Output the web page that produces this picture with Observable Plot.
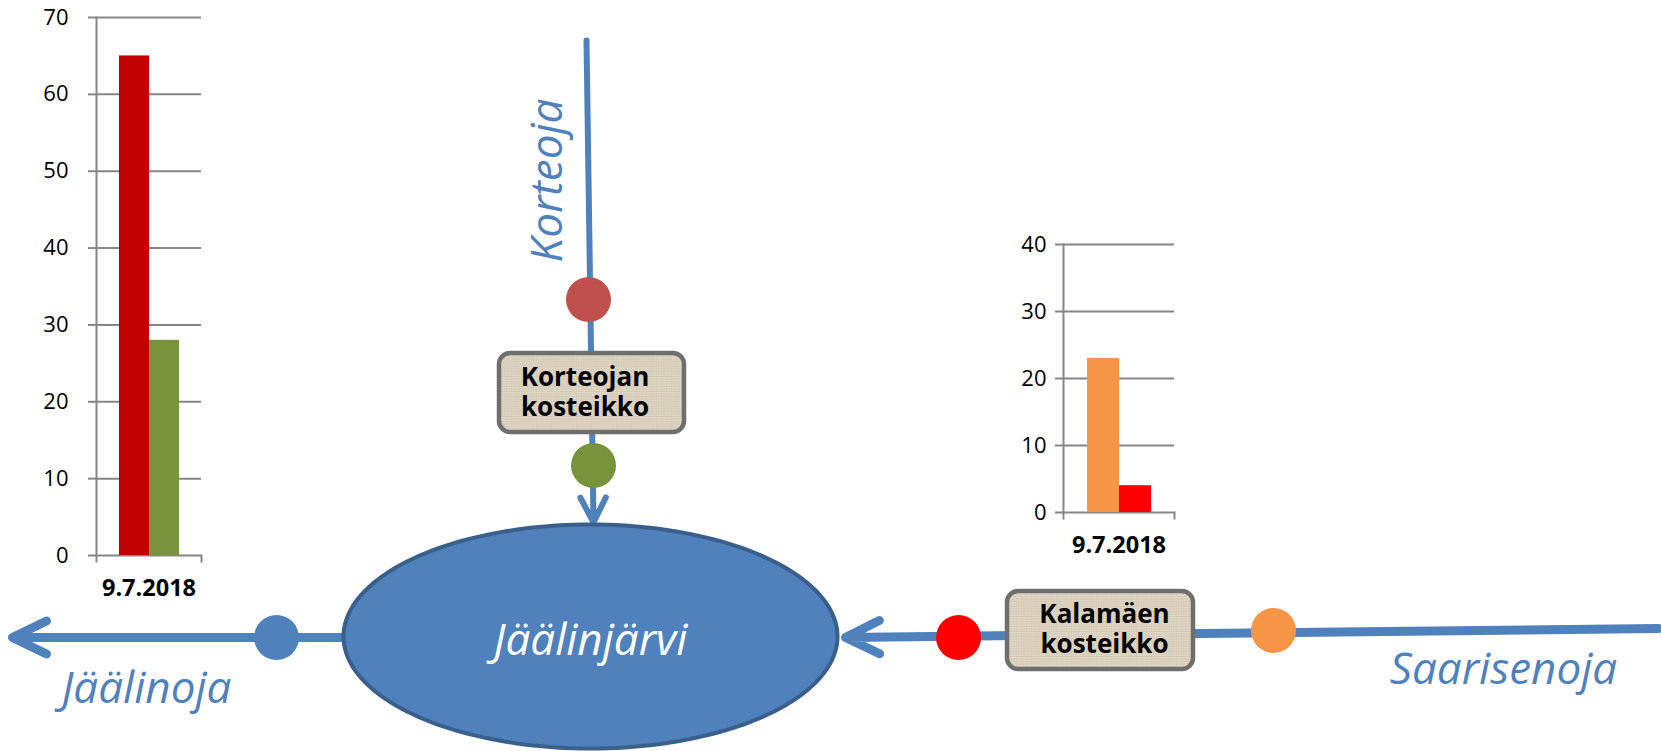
<!DOCTYPE html>
<html><head><meta charset="utf-8">
<script src="https://cdn.jsdelivr.net/npm/d3@7"></script>
<script src="https://cdn.jsdelivr.net/npm/@observablehq/plot@0.6"></script>
<style>
body{margin:0;background:#fff;}
#wrap{position:relative;width:1661px;height:751px;overflow:hidden;font-family:"Open Sans",sans-serif;}
#wrap svg{position:absolute;overflow:visible;}
</style></head><body><div id="wrap"></div>
<script>
// ---------- data ----------
const dates = ["9.7.2018"];
const korteojaSites = ["Korteoja ennen kosteikkoa", "Korteoja kosteikon jälkeen"];
const korteojaValues = [65, 28];
const kalamakiSites = ["Saarisenoja ennen kosteikkoa", "Saarisenoja kosteikon jälkeen"];
const kalamakiValues = [23, 4];
const korteojaTicks = [0, 10, 20, 30, 40, 50, 60, 70];
const kalamakiTicks = [0, 10, 20, 30, 40];
const outletSite = "Jäälinoja";

// ---------- colours ----------
const korteojaColors = ["#C00000", "#77933C"];
const kalamakiColors = ["#F79646", "#FF0000"];
const pointColors = {
  [korteojaSites[0]]: "#C0504D",
  [korteojaSites[1]]: "#77933C",
  [kalamakiSites[0]]: "#F79646",
  [kalamakiSites[1]]: "#FF0000",
  [outletSite]: "#4F81BD"
};
const waterColor = "#4F81BD";

// ---------- schematic layout (diagram units = page pixels) ----------
const lake = {name: "Jäälinjärvi", cx: 590, cy: 636, rx: 247, ry: 112};
const inflowStreams = [
  {name: "Korteoja", x1: 586, y1: 40, x2: 593, y2: 522}
];
const mainStreams = [
  {name: "Saarisenoja", x1: 1658, y1: 628, x2: 845, y2: 637},
  {name: "Jäälinoja", x1: 343, y1: 637, x2: 12, y2: 637}
];
const streamLabels = [
  {text: "Korteoja", x: 547, y: 180, rotate: -90},
  {text: "Saarisenoja", x: 1503, y: 669, rotate: 0},
  {text: "Jäälinoja", x: 146, y: 688, rotate: 0}
];
const samplingPoints = [
  {site: korteojaSites[0], x: 588, y: 299},
  {site: korteojaSites[1], x: 593, y: 465},
  {site: kalamakiSites[0], x: 1273, y: 630},
  {site: kalamakiSites[1], x: 958, y: 637},
  {site: outletSite, x: 276, y: 637}
];
const wetlands = [
  {name: "Korteojan\nkosteikko", x1: 499, x2: 684, y1: 353, y2: 432, dx: -7},
  {name: "Kalamäen\nkosteikko", x1: 1007, x2: 1193, y1: 591, y2: 669, dx: 4}
];

const wrap = document.getElementById("wrap");

// ---------- background diagram ----------
const lakeOutline = d3.range(0, 360, 2).map(a => ({
  x: lake.cx + lake.rx * Math.cos(a * Math.PI / 180),
  y: lake.cy + lake.ry * Math.sin(a * Math.PI / 180)
}));

const bg = Plot.plot({
  width: 1661, height: 751, margin: 0,
  x: {domain: [0, 1661], range: [0, 1661], axis: null},
  y: {domain: [0, 751], range: [0, 751], axis: null},
  style: {background: "transparent", fontFamily: "Open Sans", overflow: "visible"},
  marks: [
    Plot.arrow(inflowStreams, {x1: "x1", y1: "y1", x2: "x2", y2: "y2", stroke: waterColor,
      strokeWidth: 6, headLength: 7, headAngle: 54}),
    Plot.arrow(mainStreams, {x1: "x1", y1: "y1", x2: "x2", y2: "y2", stroke: waterColor,
      strokeWidth: 9, headLength: 6.3, headAngle: 52}),
    Plot.line(lakeOutline, {x: "x", y: "y", curve: "linear-closed", fill: waterColor,
      stroke: "#3A5F8B", strokeWidth: 4}),
    Plot.text([lake], {x: "cx", y: d => d.cy + 4, text: "name", fill: "white",
      fontStyle: "italic", fontSize: 44}),
    Plot.rect(wetlands, {x1: "x1", x2: "x2", y1: "y1", y2: "y2", rx: 11,
      fill: "url(#burlap)", stroke: "#6F6F6F", strokeWidth: 4.5}),
    Plot.text(wetlands, {x: d => (d.x1 + d.x2) / 2 + d.dx, y: d => (d.y1 + d.y2) / 2 - 2,
      text: "name", fontWeight: "bold", fontSize: 26, lineHeight: 1.15, fill: "black"}),
    Plot.dot(samplingPoints, {x: "x", y: "y", r: 22.5, fill: d => pointColors[d.site]}),
    Plot.text(streamLabels, {x: "x", y: "y", text: "text", rotate: "rotate",
      fill: waterColor, fontStyle: "italic", fontSize: 44})
  ]
});
const ns = "http://www.w3.org/2000/svg";
const defs = document.createElementNS(ns, "defs");
defs.innerHTML = `<pattern id="burlap" width="5" height="5" patternUnits="userSpaceOnUse">
  <rect width="5" height="5" fill="#E0D8C7"/>
  <path d="M0 1.5H5M0 4H5" stroke="#CBBFA8" stroke-width="0.8" opacity="0.7"/>
  <path d="M1.5 0V5M4 0V5" stroke="#D2C7B2" stroke-width="0.8" opacity="0.6"/>
</pattern>`;
bg.insertBefore(defs, bg.firstChild);
bg.style.left = "0px"; bg.style.top = "0px";
wrap.appendChild(bg);

// ---------- bar charts ----------
function barChart({sites, values, ticks, colors, left, top, width, height,
                   marginLeft, marginRight, marginTop, marginBottom, datePad, tickPad}) {
  const rows = sites.map((s, i) => ({date: dates[0], site: s, value: values[i]}));
  const innerHeight = height - marginTop - marginBottom;
  const svg = Plot.plot({
    width, height, marginLeft, marginRight, marginTop, marginBottom,
    style: {fontFamily: "Open Sans", fontSize: "22px", color: "#000",
      background: "transparent", overflow: "visible"},
    fx: {domain: dates, padding: 0, label: null},
    x: {domain: sites, paddingInner: 0, paddingOuter: 0.72, axis: null},
    y: {domain: [ticks[0], ticks[ticks.length - 1]], axis: null},
    color: {domain: sites, range: colors},
    marks: [
      Plot.gridY(ticks, {stroke: "#868686", strokeOpacity: 1, strokeWidth: 2}),
      Plot.axisY(ticks, {tickSize: 8, tickPadding: tickPad, stroke: "#868686", strokeWidth: 2,
        label: null, fontSize: 22, fill: "black"}),
      Plot.axisFx({anchor: "bottom", tickSize: 0, tickPadding: datePad, fontWeight: "bold",
        label: null, fontSize: 23.5, fill: "black"}),
      Plot.barY(rows, {fx: "date", x: "site", y: "value", fill: "site"}),
      Plot.frame({anchor: "left", stroke: "#868686", strokeWidth: 2, insetBottom: -6}),
      Plot.frame({anchor: "right", stroke: "#868686", strokeWidth: 2,
        insetTop: innerHeight, insetBottom: -6})
    ]
  });
  svg.style.left = left + "px"; svg.style.top = top + "px";
  wrap.appendChild(svg);
}

barChart({sites: korteojaSites, values: korteojaValues, ticks: korteojaTicks, colors: korteojaColors,
  left: 0, top: 0, width: 215, height: 620, marginLeft: 96, marginRight: 14, marginTop: 17,
  marginBottom: 65, datePad: 24, tickPad: 20});
barChart({sites: kalamakiSites, values: kalamakiValues, ticks: kalamakiTicks, colors: kalamakiColors,
  left: 990, top: 230, width: 190, height: 340, marginLeft: 73, marginRight: 6, marginTop: 14,
  marginBottom: 58, datePad: 24, tickPad: 9});
</script></body></html>
